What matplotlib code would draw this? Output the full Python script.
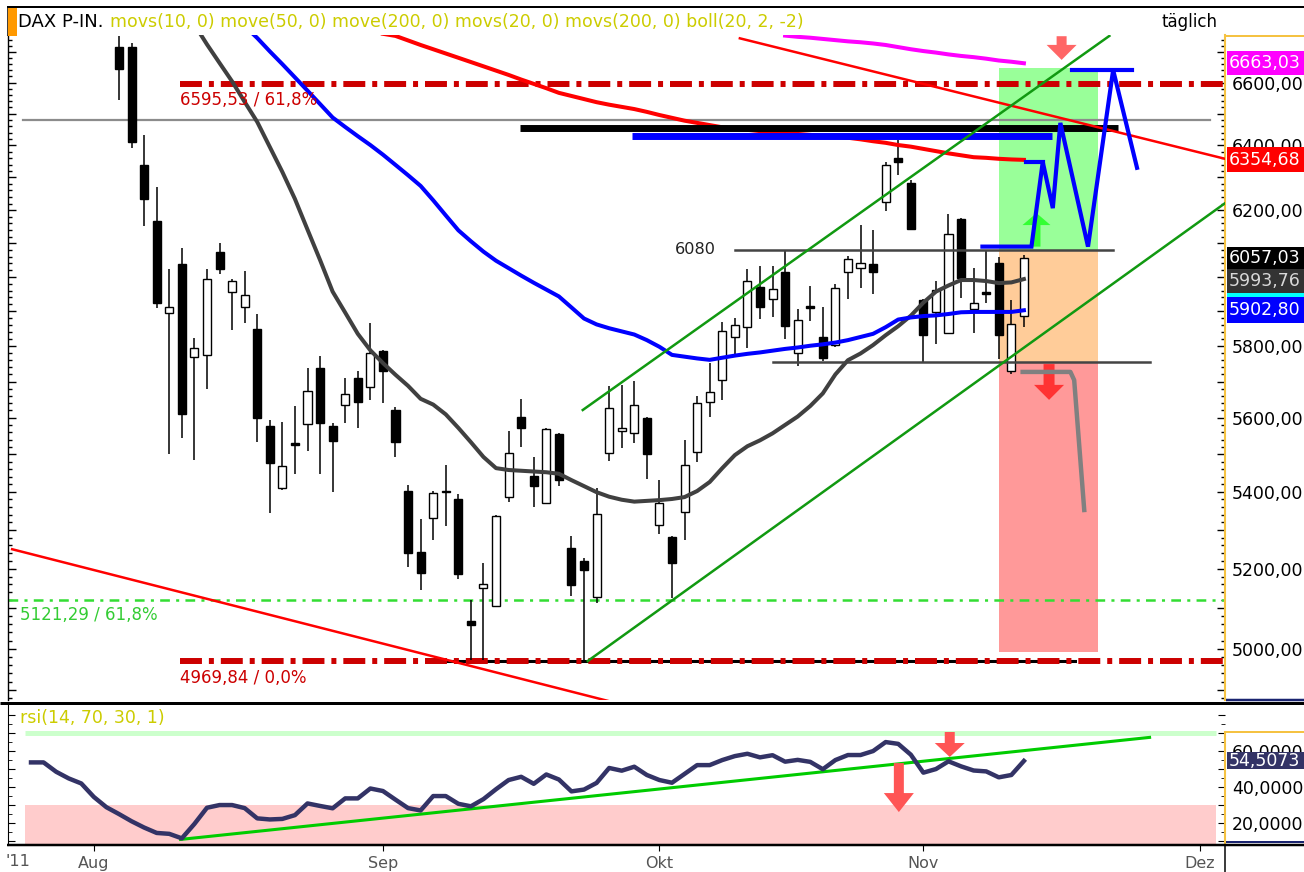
import numpy as np
import matplotlib
matplotlib.use("Agg")
import matplotlib.pyplot as plt
from matplotlib.patches import Rectangle, Polygon
from matplotlib.lines import Line2D
from matplotlib.transforms import IdentityTransform
from matplotlib.ticker import FixedLocator, FuncFormatter, NullFormatter

plt.rcParams['font.family'] = ['DejaVu Sans']
plt.rcParams['lines.scale_dashes'] = False

# ---------------- data: trading-day index 0 = 3 Aug 2011 ... 72 = 11 Nov 2011 ----------------
opens = [6716, 6716, 6339, 6167, 5895, 6038, 5769, 5775, 6074, 5956,
         5912, 5849, 5577, 5410, 5530, 5582, 5738, 5577, 5635, 5710,
         5685, 5786, 5621, 5402, 5243, 5331, 5403, 5381, 5068, 5151,
         5106, 5386, 5602, 5442, 5370, 5555, 5253, 5220, 5128, 5504,
         5563, 5558, 5599, 5313, 5281, 5347, 5506, 5643, 5704, 5826,
         5855, 5971, 5935, 6015, 5780, 5914, 5826, 5803, 6015, 6026,
         6038, 6225, 6360, 6283, 5932, 5898, 5837, 6173, 5906, 5955,
         6041, 5730, 5886]
highs = [6753, 6730, 6433, 6271, 6023, 6086, 5823, 6023, 6101, 5994,
         6018, 5892, 5593, 5588, 5632, 5738, 5772, 5585, 5710, 5730,
         5866, 5789, 5629, 5418, 5328, 5402, 5471, 5394, 5121, 5215,
         5339, 5563, 5651, 5493, 5572, 5558, 5284, 5227, 5410, 5688,
         5690, 5701, 5602, 5431, 5284, 5539, 5660, 5752, 5869, 5880,
         6023, 6032, 6032, 6077, 5906, 5973, 5912, 5979, 6062, 6155,
         6140, 6348, 6417, 6292, 5935, 5988, 6188, 6175, 6026, 6080,
         6059, 5933, 6065]
lows = [6544, 6392, 6152, 5909, 5501, 5544, 5485, 5679, 6009, 5846,
        5866, 5533, 5344, 5405, 5447, 5509, 5447, 5399, 5585, 5572,
        5649, 5640, 5493, 5204, 5146, 5274, 5310, 5174, 4972, 4972,
        5103, 5373, 5520, 5360, 5368, 5415, 5131, 4972, 5113, 5482,
        5517, 5531, 5434, 5289, 5126, 5274, 5479, 5602, 5649, 5775,
        5795, 5878, 5883, 5820, 5744, 5872, 5758, 5797, 5935, 5968,
        5950, 6197, 6308, 6140, 5755, 5806, 5835, 5938, 5837, 5924,
        5763, 5721, 5855]
closes = [6644, 6411, 6234, 5924, 5912, 5610, 5795, 5994, 6023, 5988,
          5947, 5599, 5477, 5469, 5526, 5674, 5585, 5536, 5665, 5643,
          5780, 5730, 5533, 5240, 5189, 5397, 5400, 5187, 5058, 5161,
          5336, 5504, 5572, 5415, 5569, 5431, 5159, 5197, 5341, 5626,
          5572, 5635, 5501, 5370, 5215, 5471, 5640, 5671, 5843, 5860,
          5988, 5912, 5965, 5857, 5875, 5910, 5766, 5968, 6053, 6041,
          6015, 6339, 6348, 6143, 5832, 5962, 6128, 5997, 5924, 5951,
          5832, 5863, 6057.03]

ma_grey_start = 6
ma_grey = [6791, 6725, 6664, 6604, 6538, 6474, 6395, 6317, 6234, 6141,
           6050, 5957, 5896, 5835, 5788, 5752, 5719, 5688, 5652, 5636,
           5609, 5572, 5533, 5493, 5463, 5458, 5456, 5454, 5452, 5448,
           5431, 5415, 5399, 5387, 5379, 5374, 5376, 5378, 5381, 5386,
           5402, 5426, 5463, 5498, 5522, 5538, 5557, 5580, 5603, 5632,
           5667, 5720, 5760, 5779, 5803, 5831, 5857, 5887, 5925, 5957,
           5975, 5991, 5991, 5988, 5982, 5984, 5993.76]
ma_blue_start = 10
ma_blue = [6786, 6746, 6702, 6660, 6617, 6574, 6531, 6488, 6458, 6429,
           6401, 6371, 6339, 6307, 6274, 6230, 6184, 6139, 6106, 6075,
           6048, 6026, 6004, 5983, 5963, 5943, 5911, 5879, 5862, 5851,
           5842, 5833, 5817, 5798, 5775, 5770, 5765, 5761, 5767, 5773,
           5778, 5782, 5787, 5792, 5796, 5801, 5805, 5810, 5817, 5826,
           5835, 5854, 5876, 5882, 5886, 5888, 5892, 5897, 5898, 5898,
           5898, 5898, 5902.80]
ma_red_start = 21
ma_red = [6760, 6753, 6738, 6723, 6709, 6695, 6681, 6667, 6653, 6639,
          6625, 6610, 6596, 6582, 6567, 6557, 6547, 6537, 6529, 6522,
          6515, 6506, 6496, 6487, 6478, 6471, 6464, 6457, 6453, 6449,
          6445, 6442, 6439, 6436, 6433, 6430, 6427, 6424, 6419, 6413,
          6408, 6401, 6396, 6389, 6382, 6375, 6369, 6363, 6361, 6358,
          6356, 6354.68]
ma_magenta_start = 53
ma_magenta = [6754, 6750, 6747, 6743, 6739, 6735, 6732, 6728, 6723, 6716,
              6709, 6703, 6698, 6692, 6687, 6683, 6678, 6672, 6668, 6663.03]

rsi_start = -7
rsi = [53.7, 53.7, 48.5, 44.8, 42.0, 34.5, 28.8, 25.0, 21.0, 17.5,
       14.5, 14.0, 11.5, 19.5, 28.5, 30.0, 30.0, 28.3, 22.6, 22.0,
       22.3, 24.4, 30.9, 29.5, 28.2, 33.7, 33.7, 39.2, 37.8, 33.0,
       28.3, 27.0, 35.0, 35.0, 30.7, 29.3, 33.3, 38.8, 43.9, 45.7,
       41.8, 47.0, 44.2, 37.6, 38.6, 42.3, 50.6, 49.1, 51.3, 46.7,
       43.9, 42.4, 47.3, 52.2, 52.2, 55.0, 57.2, 58.5, 56.5, 57.7,
       54.1, 55.1, 54.0, 49.9, 55.0, 57.8, 57.8, 60.0, 65.0, 64.0,
       58.0, 48.0, 50.0, 54.3, 51.5, 49.2, 48.7, 45.4, 46.7, 54.5073]

month_labels = ['Aug', 'Sep', 'Okt', 'Nov', 'Dez']
month_index = [-2, 21, 43, 64, 86]
price_labels = [5000, 5200, 5400, 5600, 5800, 6200, 6400, 6600]
rsi_labels = [20, 40, 60]

fib_high, fib_low, fib_green = 6595.53, 4969.84, 5121.29
level_grey = 6480
level_black_bar = 6456
level_blue_bar = 6431
level_upper = 6080
level_lower = 5755
zone_x = (70.0, 77.9)
zone_top = 6647.5
zone_bottom = 4992

red_upper_line = [(49.4, 6745), (88.0, 6358)]
red_lower_line = [(-8.5, 5250), (42.0, 4850)]
green_upper_line = [(36.9, 5621), (78.8, 6753)]
green_lower_line = [(37.3, 4970), (88.0, 6221)]
rsi_trend = [(4.9, 10.9), (82.0, 67.6)]

blue_path = [(68.7, 6090), (72.6, 6090), (73.5, 6348), (74.3, 6206), (74.9, 6471),
             (77.1, 6090), (79.1, 6641), (81.0, 6330)]
blue_flat1 = [(72.2, 6348), (73.5, 6348)]
blue_flat2 = [(75.8, 6641), (80.6, 6641)]
grey_path = [(71.9, 5727), (75.7, 5727), (76.0, 5704), (76.8, 5352)]

# ---------------- figure ----------------
W, H = 1304, 872
fig = plt.figure(figsize=(W / 100, H / 100), dpi=100, facecolor='white')
L, R = 8, 1225
ax = fig.add_axes([L / W, 1 - 700 / H, (R - L) / W, 665 / H])
rx = fig.add_axes([L / W, 1 - 845 / H, (R - L) / W, 140 / H])
XMIN, XMAX = -8.83, 88.0
ax.set_yscale('log')
ax.set_xlim(XMIN, XMAX)
ax.set_ylim(4875.8, 6756.0)
rx.set_xlim(XMIN, XMAX)
rx.set_ylim(7.8, 85.6)

ID = IdentityTransform()
ORANGE = '#f5c242'
NAVY = '#1a2470'


def fig_line(x0, y0, x1, y1, color, lw_px, z=10):
    fig.add_artist(Line2D([x0, x1], [H - y0, H - y1], transform=ID, color=color,
                          lw=lw_px * 0.72, solid_capstyle='butt', zorder=z))


def block_arrow(axis, k, v_tail, v_head, shaft, head, headlen, color, z=6):
    x, y0 = axis.transData.transform((k, v_tail))
    _, y1 = axis.transData.transform((k, v_head))
    d = np.sign(y1 - y0)
    yb = y1 - d * headlen
    pts = [(x - shaft / 2, y0), (x + shaft / 2, y0), (x + shaft / 2, yb), (x + head / 2, yb),
           (x, y1), (x - head / 2, yb), (x - shaft / 2, yb)]
    axis.add_patch(Polygon(pts, closed=True, transform=ID, facecolor=color,
                           edgecolor='none', zorder=z))


def seg(axis, pts, **kw):
    xs, ys = zip(*pts)
    axis.plot(xs, ys, **kw)


# zones
zx0, zx1 = zone_x
ax.add_patch(Rectangle((zx0, level_upper), zx1 - zx0, zone_top - level_upper,
                       facecolor='#99ff99', edgecolor='none', zorder=1))
ax.add_patch(Rectangle((zx0, level_lower), zx1 - zx0, level_upper - level_lower,
                       facecolor='#ffcc99', edgecolor='none', zorder=1))
ax.add_patch(Rectangle((zx0, zone_bottom), zx1 - zx0, level_lower - zone_bottom,
                       facecolor='#ff9999', edgecolor='none', zorder=1))

# horizontal levels
seg(ax, [(-7.6, level_grey), (86.8, level_grey)], color='#8c8c8c', lw=1.6, zorder=2)
seg(ax, [(25.0, fib_low), (76.1, fib_low)], color='black', lw=2.2, zorder=2)
ax.plot([4.85, XMAX], [fib_high, fib_high], color='#cc0000', lw=4.3,
        dashes=(15.8, 5, 3.6, 5), zorder=2.5)
ax.plot([4.85, XMAX], [fib_low, fib_low], color='#cc0000', lw=4.3,
        dashes=(15.8, 5, 3.6, 5), zorder=2.5)
ax.plot([XMIN, XMAX], [fib_green, fib_green], color='#33dd33', lw=1.8,
        dashes=(7, 4.5, 2.2, 4.5), zorder=2.5)

# candles
idx = np.arange(len(opens))
o, h, l, c = map(np.asarray, (opens, highs, lows, closes))
ax.vlines(idx, l, h, color='black', lw=1.1, zorder=3)
up = c >= o
bottoms = np.minimum(o, c)
heights = np.maximum(np.abs(c - o), 1.0)
ax.bar(idx[up], heights[up], bottom=bottoms[up], width=0.64, facecolor='white',
       edgecolor='black', lw=1.0, zorder=3.1)
ax.bar(idx[~up], heights[~up], bottom=bottoms[~up], width=0.64, facecolor='black',
       edgecolor='black', lw=1.0, zorder=3.1)

# moving averages
for start, vals, col in [(ma_grey_start, ma_grey, '#404040'),
                         (ma_blue_start, ma_blue, '#0000ff'),
                         (ma_red_start, ma_red, '#ff0000'),
                         (ma_magenta_start, ma_magenta, '#ff00ff')]:
    ax.plot(np.arange(start, start + len(vals)), vals, color=col, lw=2.9,
            solid_joinstyle='round', zorder=4)

# thick bars
seg(ax, [(31.9, level_black_bar), (79.5, level_black_bar)], color='black', lw=5,
    solid_capstyle='butt', zorder=4.5)
seg(ax, [(40.8, level_blue_bar), (74.2, level_blue_bar)], color='#0000ff', lw=5,
    solid_capstyle='butt', zorder=4.5)

# 6080 / lower range lines
seg(ax, [(49.0, level_upper), (79.1, level_upper)], color='#444444', lw=1.8, zorder=5)
seg(ax, [(52.0, level_lower), (82.0, level_lower)], color='#444444', lw=1.8, zorder=5)

# trend lines
seg(ax, red_upper_line, color='#ff0000', lw=1.8, zorder=5)
seg(ax, red_lower_line, color='#ff0000', lw=1.8, zorder=5)
seg(ax, green_upper_line, color='#119911', lw=1.8, zorder=5)
seg(ax, green_lower_line, color='#119911', lw=1.8, zorder=5)

# arrows
block_arrow(ax, 75.0, 6752, 6674, 10, 30, 15, '#ff6666')
block_arrow(ax, 74.0, 5749, 5649, 11, 30, 15, '#ff3333')
block_arrow(ax, 73.0, 6090, 6191, 8, 28, 12, '#33ff33')

# projection paths
seg(ax, blue_path, color='#0000ff', lw=3.0, solid_joinstyle='miter', zorder=7)
seg(ax, blue_flat1, color='#0000ff', lw=3.0, zorder=7)
seg(ax, blue_flat2, color='#0000ff', lw=3.0, zorder=7)
seg(ax, grey_path, color='#808080', lw=3.2, zorder=7)

# labels inside the chart
ax.annotate('6595,53 / 61,8%', xy=(4.85, fib_high), xytext=(0, -16), textcoords='offset pixels',
            color='#cc0000', fontsize=12, va='center', ha='left', zorder=6)
ax.annotate('4969,84 / 0,0%', xy=(4.85, fib_low), xytext=(0, -17), textcoords='offset pixels',
            color='#cc0000', fontsize=12, va='center', ha='left', zorder=6)
ax.annotate('5121,29 / 61,8%', xy=(-7.9, fib_green), xytext=(0, -15), textcoords='offset pixels',
            color='#33cc33', fontsize=12, va='center', ha='left', zorder=6)
ax.text(44.2, level_upper, '6080', color='#222222', fontsize=11.6, va='center', ha='left', zorder=6)

# main axis styling
ax.set_facecolor('white')
ax.yaxis.set_major_locator(FixedLocator(np.arange(4900, 6801, 100)))
ax.yaxis.set_minor_locator(FixedLocator(np.arange(4880, 6761, 20)))
ax.yaxis.set_major_formatter(FuncFormatter(
    lambda v, p: (f'{v:.2f}'.replace('.', ',') if round(v) in price_labels else '')))
ax.yaxis.set_minor_formatter(NullFormatter())
ax.tick_params(axis='y', which='major', direction='in', length=6, width=1, left=True, right=True,
               labelleft=False, labelright=True, labelsize=12.5, pad=5)
ax.tick_params(axis='y', which='minor', direction='in', length=3, width=1, left=True, right=True)
ax.tick_params(axis='x', bottom=False, labelbottom=False)
ax.spines['top'].set_visible(False)
ax.spines['bottom'].set_visible(False)
ax.spines['left'].set_linewidth(1.0)
ax.spines['right'].set_color(ORANGE)
ax.spines['right'].set_linewidth(1.5)

# ---------------- RSI panel ----------------
rx.add_patch(Rectangle((-7.5, 0), 87.3 + 7.5, 30, facecolor='#ffcccc', edgecolor='none', zorder=1))
rx.plot([-7.5, 87.3], [70, 70], color='#ccffcc', lw=3.6, solid_capstyle='butt', zorder=1.5)
seg(rx, rsi_trend, color='#00cc00', lw=2.2, zorder=3)
rx.plot(np.arange(rsi_start, rsi_start + len(rsi)), rsi, color='#333366', lw=3.2,
        solid_joinstyle='round', zorder=4)
block_arrow(rx, 62.05, 53.3, 26.1, 10, 30, 19, '#ff5555')
block_arrow(rx, 66.1, 70.6, 56.7, 10, 30, 14, '#ff5555')

rx.yaxis.set_major_locator(FixedLocator(np.arange(10, 81, 10)))
rx.yaxis.set_minor_locator(FixedLocator(np.arange(10, 81, 5)))
rx.yaxis.set_major_formatter(FuncFormatter(
    lambda v, p: (f'{v:.4f}'.replace('.', ',') if round(v) in rsi_labels else '')))
rx.tick_params(axis='y', which='major', direction='in', length=5, left=True, right=True,
               labelleft=False, labelright=True, labelsize=12.5, pad=5)
rx.tick_params(axis='y', which='minor', direction='in', length=3, left=True, right=True)
rx.set_xticks(month_index)
rx.set_xticklabels(month_labels)
rx.tick_params(axis='x', direction='out', length=4, labelsize=11.5, labelcolor='#555555', pad=4)
rx.spines['top'].set_visible(False)
rx.spines['bottom'].set_visible(False)
rx.spines['right'].set_color(ORANGE)
rx.spines['right'].set_linewidth(1.5)
rx.spines['right'].set_bounds(7.8, 70.6)

# ---------------- frame / header ----------------
fig_line(7, 7, W, 7, 'black', 2)
fig_line(7.5, 7, 7.5, 36, 'black', 1.5)
fig_line(0, 702.5, W, 702.5, 'black', 3)
fig_line(1226, 699.5, W, 699.5, NAVY, 2.5)
fig_line(7, 844.5, W, 844.5, 'black', 2.5)
fig_line(1226, 842, W, 842, NAVY, 2)
fig_line(1224.5, 845, 1224.5, H, 'black', 1.5)
fig_line(R, 35.5, W, 35.5, ORANGE, 2)
fig_line(R, 732, W, 732, ORANGE, 2)
fig.add_artist(Rectangle((8, H - 36), 9, 28, transform=ID, facecolor='#ff9900',
                         edgecolor='none', zorder=11))

fig.text(18 / W, 1 - 22 / H, 'DAX P-IN.', fontsize=13, color='black', va='center', ha='left')
fig.text(110 / W, 1 - 22 / H,
         'movs(10, 0) move(50, 0) move(200, 0) movs(20, 0) movs(200, 0) boll(20, 2, -2)',
         fontsize=12.5, color='#cccc00', va='center', ha='left')
fig.text(1162 / W, 1 - 22 / H, 'täglich', fontsize=12, color='black', va='center', ha='left')
fig.text(20 / W, 1 - 718 / H, 'rsi(14, 70, 30, 1)', fontsize=12.5, color='#cccc00',
         va='center', ha='left')
fig.text(18 / W, 1 - 861 / H, "'11", fontsize=11.5, color='#555555', va='center', ha='center')


# value boxes on the price axis
def box(axis, value, text, bg, fg, h, top=None):
    yc = H - axis.transData.transform((0, value))[1]
    t = yc - h / 2 if top is None else top
    fig.add_artist(Rectangle((1227, H - t - h), 80, h, transform=ID, facecolor=bg,
                             edgecolor='none', zorder=12))
    fig.text(1229, H - (t + h / 2), text, transform=ID, color=fg, fontsize=12.5,
             va='center', ha='left', zorder=13)
    return t + h


box(ax, 5948, '', '#00ffff', 'white', 20)
box(ax, 6663.03, '6663,03', '#ff00ff', 'white', 24)
box(ax, 6354.68, '6354,68', '#ff0000', 'white', 25)
b = box(ax, 6057.03, '6057,03', '#000000', 'white', 22)
b = box(ax, 5993.76, '5993,76', '#333333', '#d8d8d8', 24,
        top=max(b, H - ax.transData.transform((0, 5993.76))[1] - 12))
box(ax, 5902.80, '5902,80', '#0000ff', 'white', 26,
    top=max(b + 4, H - ax.transData.transform((0, 5902.80))[1] - 13))
box(rx, 54.5073, '54,5073', '#333366', 'white', 17)

fig.savefig('out.png', dpi=100, facecolor='white')
